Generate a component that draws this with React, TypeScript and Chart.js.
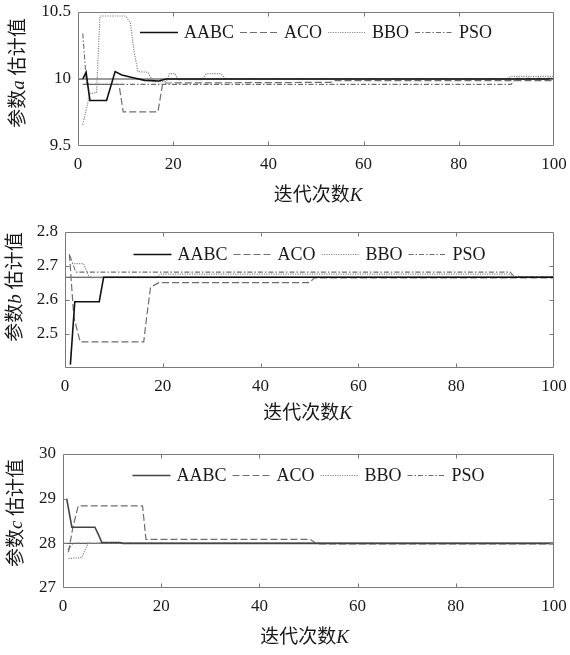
import React, { useEffect, useRef } from 'react';
import { Chart, registerables } from 'chart.js';
Chart.register(...registerables);

const SERIF = '"Liberation Serif", "Times New Roman", "Noto Sans CJK SC", serif';

const SERIES_NAMES = ['AABC', 'ACO', 'BBO', 'PSO'];
const X_TICKS = [0, 20, 40, 60, 80, 100];

// ---- panel a ----
const A_TRUE = 10;
const A_Y_TICKS = [9.5, 10, 10.5];
const A_AABC: [number, number][] = [[1, 10.0], [1.7, 10.05], [2.5, 9.84], [6, 9.84], [7.8, 10.055], [9.2, 10.03], [11.6, 10.01], [14, 9.99], [17, 9.985], [18.5, 10.0], [100, 10.0]];
const A_ACO: [number, number][] = [[1, 9.96], [8.6, 9.96], [9.5, 9.755], [16.8, 9.755], [17.8, 9.97], [53, 9.975], [54, 9.988], [100, 9.988]];
const A_BBO: [number, number][] = [[1, 9.66], [2.5, 9.89], [3.9, 9.9], [4.6, 10.47], [10, 10.47], [11, 10.42], [11.8, 10.2], [12.6, 10.055], [14.7, 10.05], [15.8, 9.98], [18.6, 9.98], [19.2, 10.04], [20.4, 10.04], [21, 9.995], [26, 9.995], [27, 10.04], [30, 10.04], [31, 10.0], [90, 10.0], [91, 10.02], [100, 10.02]];
const A_PSO: [number, number][] = [[1, 10.34], [1.8, 9.96], [91, 9.96], [92, 10.005], [100, 10.005]];

// ---- panel b ----
const B_TRUE = 2.667;
const B_Y_TICKS = [2.5, 2.6, 2.7, 2.8];
const B_AABC: [number, number][] = [[1.1, 2.41], [2, 2.595], [7, 2.595], [7.9, 2.667], [100, 2.667]];
const B_ACO: [number, number][] = [[0.9, 2.735], [1.8, 2.55], [3.1, 2.477], [16.1, 2.477], [16.7, 2.55], [17.5, 2.638], [19.2, 2.651], [50, 2.651], [51, 2.665], [100, 2.665]];
const B_BBO: [number, number][] = [[1.4, 2.707], [3.8, 2.707], [4.8, 2.672], [5.5, 2.666], [18.5, 2.666], [19.5, 2.676], [91, 2.676], [92, 2.668], [100, 2.668]];
const B_PSO: [number, number][] = [[1, 2.73], [2.2, 2.682], [91, 2.682], [92, 2.668], [100, 2.668]];

// ---- panel c ----
const C_TRUE = 28;
const C_Y_TICKS = [27, 28, 29, 30];
const C_AABC: [number, number][] = [[0.75, 29.0], [1.8, 28.36], [6.5, 28.36], [7.2, 28.2], [7.9, 28.02], [11.6, 28.02], [12.2, 28.0], [100, 28.0]];
const C_ACO: [number, number][] = [[1.1, 27.8], [2, 28.35], [3.1, 28.84], [16.2, 28.84], [16.9, 28.09], [50.3, 28.09], [51.6, 27.99], [100, 27.99]];
const C_BBO: [number, number][] = [[1.1, 27.66], [3.8, 27.68], [5.1, 28.0], [100, 28.0]];
const C_PSO: [number, number][] = [[1, 27.85], [2, 28.0], [100, 28.0]];

type Seg = { t: string; it?: boolean };

function drawMixed(ctx: CanvasRenderingContext2D, segs: Seg[], cx: number, cy: number, size: number, rot: boolean) {
  ctx.save();
  ctx.translate(cx, cy);
  if (rot) ctx.rotate(-Math.PI / 2);
  const fontOf = (s: Seg) => `${s.it ? 'italic ' : ''}${size}px ${SERIF}`;
  let total = 0;
  const widths = segs.map((s) => { ctx.font = fontOf(s); const w = ctx.measureText(s.t).width; total += w; return w; });
  let x = -total / 2;
  ctx.fillStyle = '#1a1a1a';
  ctx.textBaseline = 'middle';
  ctx.textAlign = 'left';
  segs.forEach((s, i) => { ctx.font = fontOf(s); ctx.fillText(s.t, x, 0); x += widths[i]; });
  ctx.restore();
}

const framePlugin = {
  id: 'frame',
  afterDatasetsDraw(chart: any, _args: any, opts: any) {
    const { ctx, chartArea } = chart;
    const { left, right, top, bottom } = chartArea;
    const xs = chart.scales.x, ys = chart.scales.y;
    ctx.save();
    ctx.strokeStyle = '#7a7a7a';
    ctx.lineWidth = 1;
    ctx.setLineDash([]);
    const L = Math.round(left) + 0.5, R = Math.round(right) - 0.5, T = Math.round(top) + 0.5, B = Math.round(bottom) - 0.5;
    ctx.beginPath();
    ctx.rect(L, T, R - L, B - T);
    ctx.stroke();
    const tl = 4;
    ctx.beginPath();
    for (const v of opts.xTicks) {
      if (v <= xs.min || v >= xs.max) continue;
      const px = Math.round(xs.getPixelForValue(v)) + 0.5;
      ctx.moveTo(px, B); ctx.lineTo(px, B - tl);
      ctx.moveTo(px, T); ctx.lineTo(px, T + tl);
    }
    for (const v of opts.yTicks) {
      if (v <= ys.min || v >= ys.max) continue;
      const py = Math.round(ys.getPixelForValue(v)) + 0.5;
      ctx.moveTo(L, py); ctx.lineTo(L + tl, py);
      ctx.moveTo(R, py); ctx.lineTo(R - tl, py);
    }
    ctx.stroke();

    // legend
    const ds = chart.data.datasets.slice(0, 4);
    ctx.font = `18px ${SERIF}`;
    const sampleW = 38, gapA = 6, gapB = 6;
    const tw = ds.map((d: any) => ctx.measureText(d.label).width);
    let total = 0;
    tw.forEach((w: number) => { total += sampleW + gapA + w; });
    total += gapB * (ds.length - 1);
    let x = (left + right) / 2 - total / 2;
    const y = Math.round(top + opts.legendDy) + 0.5;
    ds.forEach((d: any, i: number) => {
      ctx.strokeStyle = d.borderColor;
      ctx.lineWidth = d.borderWidth;
      ctx.setLineDash(d.borderDash || []);
      ctx.beginPath();
      ctx.moveTo(x, y); ctx.lineTo(x + sampleW, y);
      ctx.stroke();
      ctx.setLineDash([]);
      ctx.fillStyle = '#1a1a1a';
      ctx.textBaseline = 'middle';
      ctx.textAlign = 'left';
      ctx.fillText(d.label, x + sampleW + gapA, y + 1);
      x += sampleW + gapA + tw[i] + gapB;
    });
    ctx.restore();

    drawMixed(ctx, [{ t: '迭代次数' }, { t: 'K', it: true }], (left + right) / 2 + opts.xTitleDx, bottom + opts.xTitleDy, 19, false);
    drawMixed(ctx, opts.yTitle, opts.yTitleX, opts.yTitleY, 19, true);
  },
};

type Panel = {
  top: number; height: number; padTop: number; xAxisH: number; yAxisW: number;
  min: number; max: number; yTicks: number[]; trueVal: number;
  series: [number, number][][]; aabcColor: string;
  legendDy: number; xTitleDy: number; xTitleDx: number; yTitle: Seg[]; yTitleX: number; yTitleY: number;
};

const PANELS: Panel[] = [
  { top: 0, height: 218, padTop: 12, xAxisH: 72, yAxisW: 78, min: 9.5, max: 10.5, yTicks: A_Y_TICKS, trueVal: A_TRUE,
    series: [A_AABC, A_ACO, A_BBO, A_PSO], aabcColor: '#111111', legendDy: 20, xTitleDy: 50, xTitleDx: 2,
    yTitle: [{ t: '参数' }, { t: 'a', it: true }, { t: ' 估计值' }], yTitleX: 19, yTitleY: 73 },
  { top: 218, height: 218, padTop: 14, xAxisH: 68, yAxisW: 65, min: 2.4, max: 2.8, yTicks: B_Y_TICKS, trueVal: B_TRUE,
    series: [B_AABC, B_ACO, B_BBO, B_PSO], aabcColor: '#111111', legendDy: 22, xTitleDy: 46, xTitleDx: -2,
    yTitle: [{ t: '参数' }, { t: 'b', it: true }, { t: ' 估计值' }], yTitleX: 16, yTitleY: 287 - 218 },
  { top: 436, height: 219, padTop: 18, xAxisH: 67, yAxisW: 63, min: 27, max: 30, yTicks: C_Y_TICKS, trueVal: C_TRUE,
    series: [C_AABC, C_ACO, C_BBO, C_PSO], aabcColor: '#444444', legendDy: 21, xTitleDy: 50, xTitleDx: -4,
    yTitle: [{ t: '参数' }, { t: 'c', it: true }, { t: ' 估计值' }], yTitleX: 17, yTitleY: 513 - 436 },
];

const STYLES = [
  { color: '', width: 1.6, dash: [] as number[] },
  { color: '#6e6e6e', width: 1.2, dash: [7, 3] },
  { color: '#8a8a8a', width: 1.2, dash: [1.2, 1.2] },
  { color: '#6e6e6e', width: 1.1, dash: [5, 2, 1.5, 2] },
];

function PanelChart({ p }: { p: Panel }) {
  const ref = useRef<HTMLCanvasElement | null>(null);
  useEffect(() => {
    if (!ref.current) return;
    const datasets: any[] = p.series.map((s, i) => ({
      label: SERIES_NAMES[i],
      data: s.map(([x, y]) => ({ x, y })),
      borderColor: i === 0 ? p.aabcColor : STYLES[i].color,
      borderWidth: STYLES[i].width,
      borderDash: STYLES[i].dash,
      pointRadius: 0,
      tension: 0,
      fill: false,
    }));
    datasets.push({
      label: 'true',
      data: [{ x: 0, y: p.trueVal }, { x: 100, y: p.trueVal }],
      borderColor: '#3a3a3a',
      borderWidth: 1,
      pointRadius: 0,
      fill: false,
    });
    datasets.forEach((d, i) => { d.order = i === 4 ? 10 : i; });
    const tickFont = { family: SERIF, size: 17 };
    const chart = new Chart(ref.current, {
      type: 'line',
      data: { datasets },
      options: {
        animation: false,
        responsive: false,
        devicePixelRatio: 1,
        layout: { padding: { top: p.padTop, right: 16, left: 0, bottom: 0 } },
        plugins: { legend: { display: false }, tooltip: { enabled: false }, frame: { xTicks: X_TICKS, yTicks: p.yTicks, legendDy: p.legendDy, xTitleDy: p.xTitleDy, xTitleDx: p.xTitleDx, yTitle: p.yTitle, yTitleX: p.yTitleX, yTitleY: p.yTitleY } } as any,
        scales: {
          x: {
            type: 'linear', min: 0, max: 100,
            grid: { display: false, drawTicks: false }, border: { display: false },
            afterBuildTicks: (s: any) => { s.ticks = X_TICKS.map((v) => ({ value: v })); },
            afterFit: (s: any) => { s.height = p.xAxisH; s.paddingLeft = 0; s.paddingRight = 0; },
            ticks: { font: tickFont, color: '#1a1a1a', padding: 8, maxRotation: 0, autoSkip: false, callback: (v: any) => String(v) },
          },
          y: {
            type: 'linear', min: p.min, max: p.max,
            grid: { display: false, drawTicks: false }, border: { display: false },
            afterBuildTicks: (s: any) => { s.ticks = p.yTicks.map((v) => ({ value: v })); },
            afterFit: (s: any) => { s.width = p.yAxisW; s.paddingTop = 0; s.paddingBottom = 0; },
            ticks: { font: tickFont, color: '#1a1a1a', padding: 7, autoSkip: false, callback: (v: any) => String(v) },
          },
        },
      } as any,
      plugins: [framePlugin as any],
    });
    return () => chart.destroy();
  }, [p]);
  return (
    <canvas ref={ref} width={570} height={p.height}
      style={{ position: 'absolute', left: 0, top: p.top, width: 570, height: p.height, display: 'block' }} />
  );
}

export default function App() {
  return (
    <div style={{ position: 'absolute', left: 0, top: 0, width: 570, height: 655, background: '#fff' }}>
      {PANELS.map((p, i) => <PanelChart key={i} p={p} />)}
    </div>
  );
}
